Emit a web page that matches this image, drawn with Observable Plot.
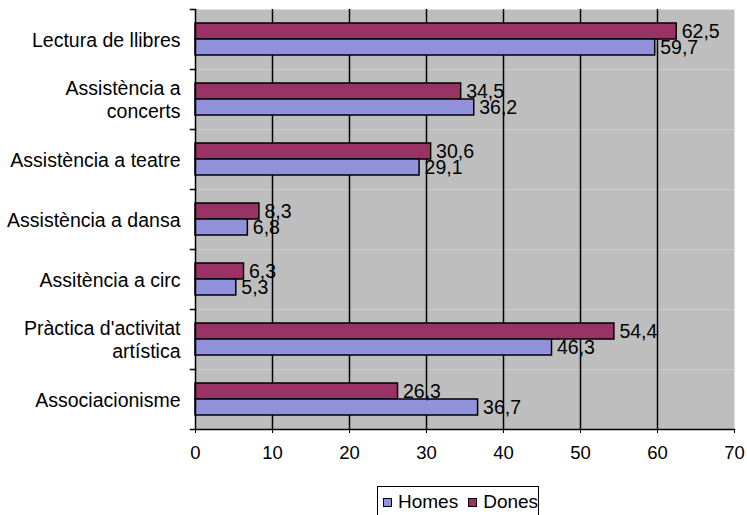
<!DOCTYPE html>
<html>
<head>
<meta charset="utf-8">
<script src="https://cdn.jsdelivr.net/npm/d3@7"></script>
<script src="https://cdn.jsdelivr.net/npm/@observablehq/plot@0.6"></script>
<style>
  html, body { margin: 0; padding: 0; background: #fff; overflow: hidden; }
  #wrap { position: relative; width: 747px; height: 515px; overflow: hidden; font-family: "Liberation Sans", Arial, sans-serif; }
  #legend { position: absolute; left: 377px; top: 486px; width: 162px; height: 60px; border: 1.5px solid #000; box-sizing: border-box;
            display: flex; align-items: flex-start; padding-top: 4px; padding-left: 5px; font-size: 19px; color: #000; background: #fff; }
  .item { display: flex; align-items: center; margin-right: 10px; }
  .sw { width: 7px; height: 7px; border: 1.5px solid #000; margin-right: 6px; }
</style>
</head>
<body>
<div id="wrap"><div id="chart"></div><div id="legend"></div></div>
<script>
const categories = ["Lectura de llibres", "Assistència a concerts", "Assistència a teatre", "Assistència a dansa", "Assitència a circ", "Pràctica d'activitat artística", "Associacionisme"];
const categoryLabels = ["Lectura de llibres", "Assistència a\nconcerts", "Assistència a teatre", "Assistència a dansa", "Assitència a circ", "Pràctica d'activitat\nartística", "Associacionisme"];
const homes = [59.7, 36.2, 29.1, 6.8, 5.3, 46.3, 36.7];
const dones = [62.5, 34.5, 30.6, 8.3, 6.3, 54.4, 26.3];
const seriesNames = ["Homes", "Dones"];
const seriesColors = ["#9292dc", "#993366"];
const xTicks = [0, 10, 20, 30, 40, 50, 60, 70];
const gridValues = [10, 20, 30, 40, 50, 60];

const rows = categories.flatMap((c, i) => [
  {category: c, series: "Dones", value: dones[i]},
  {category: c, series: "Homes", value: homes[i]}
]);
const labelOf = new Map(categories.map((c, i) => [c, categoryLabels[i]]));
const fmt = v => v.toFixed(1).replace(".", ",");

const W = 747, ML = 195, MR = 13;
const chart = Plot.plot({
  width: W, height: 470,
  marginLeft: ML, marginRight: MR, marginTop: 9, marginBottom: 41,
  style: {fontFamily: "'Liberation Sans', Arial, sans-serif", fontSize: "18px", color: "#000", background: "transparent"},
  x: {domain: [0, 70]},
  y: {domain: ["Dones", "Homes"], paddingInner: 0, paddingOuter: 0.765, axis: null},
  fy: {domain: categories, padding: 0},
  color: {domain: seriesNames, range: seriesColors},
  marks: [
    Plot.frame({fill: "#bebebe"}),
    Plot.ruleX(gridValues, {stroke: "#000", strokeWidth: 1.5}),
    Plot.barX(rows, {x: "value", y: "series", fy: "category", fill: "series", stroke: "#000", strokeWidth: 1.5}),
    Plot.text(rows, {x: "value", y: "series", fy: "category", text: d => fmt(d.value), textAnchor: "start", dx: 5, fontSize: 19.5, fill: "#000"}),
    Plot.ruleX([0], {stroke: "#000", strokeWidth: 1.5}),
    Plot.frame({anchor: "top", insetLeft: -5, insetRight: W - ML - MR, stroke: "#000", strokeWidth: 1.5}),
    Plot.frame({anchor: "bottom", facetAnchor: "bottom", insetLeft: -5, stroke: "#000", strokeWidth: 1.5}),
    Plot.axisX({ticks: xTicks, tickSize: 4, tickPadding: 12, fontSize: 18.5, label: null, tickFormat: d => String(d)}),
    Plot.axisFy({anchor: "left", tickSize: 0, tickPadding: 15, fontSize: 19.5, lineHeight: 1.15, label: null, tickFormat: d => labelOf.get(d)})
  ]
});
document.getElementById("chart").appendChild(chart);

const legend = document.getElementById("legend");
seriesNames.forEach((s, i) => {
  const item = document.createElement("div");
  item.className = "item";
  const sw = document.createElement("div");
  sw.className = "sw";
  sw.style.background = seriesColors[i];
  const t = document.createElement("span");
  t.textContent = s;
  item.appendChild(sw); item.appendChild(t);
  legend.appendChild(item);
});
</script>
</body>
</html>
